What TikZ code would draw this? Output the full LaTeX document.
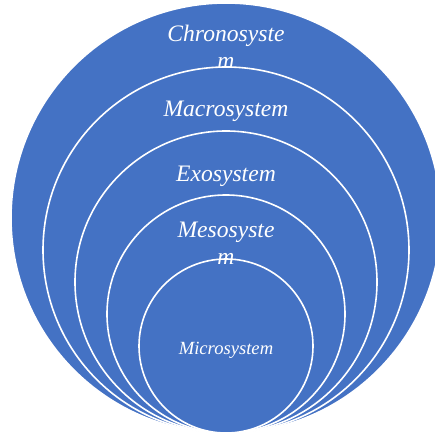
\documentclass[tikz,border=0pt]{standalone}
\usepackage{fontspec}
\setmainfont{Liberation Serif}
\usepackage{tikz}

\definecolor{ringblue}{RGB}{68,114,196}

\begin{document}
\begin{tikzpicture}[x=1pt, y=1pt,
	ring/.style={fill=ringblue, draw=white, line width=1.6pt},
	label/.style={text=white, font=\itshape\fontsize{23.6}{27}\selectfont, align=center}]
	\useasboundingbox (0, 0) rectangle (435, 437);

	% cercle chronosysteme
	\draw[ring] (226, 219) circle (215);

	% cercle macrosysteme
	\draw[ring] (226, 187) circle (183);

	% cercle exosysteme
	\draw[ring] (226, 155) circle (151);

	% cercle mesosysteme
	\draw[ring] (226, 123) circle (119);

	% cercle microsysteme
	\draw[ring] (226, 91) circle (87);

	% textes
	\node[label] (chrono) at (226, 390) {Chronosyste\\m};
	\node[label] (macro) at (226, 326) {Macrosystem};
	\node[label] (exo) at (226, 261) {Exosystem};
	\node[label] (meso) at (226, 194) {Mesosyste\\m};
	\node[label, font=\itshape\fontsize{18.6}{22}\selectfont] (micro) at (226, 87) {Microsystem};
\end{tikzpicture}
\end{document}
